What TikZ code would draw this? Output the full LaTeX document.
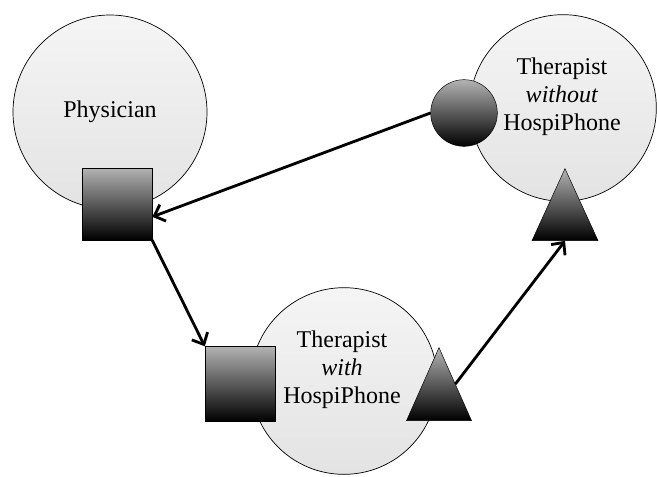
\documentclass[tikz,border=0pt]{standalone}
\usepackage{fontspec}
\setmainfont{Liberation Serif}
\usetikzlibrary{shapes.geometric,positioning,arrows.meta}

\begin{document}
\begin{tikzpicture}[x=0.03cm,y=-0.03cm,
	big/.style={circle,draw=black,semithick,top color=gray!8,bottom color=gray!22,inner sep=0pt},
	dark/.style={draw=black,thin,top color=gray!60,bottom color=black,inner sep=0pt},
	txt/.style={align=center,font=\fontsize{20.5}{24}\selectfont},
	link/.style={line width=2.4pt,-{Straight Barb[length=8pt,width=15pt]}}]
		\useasboundingbox (0,0) rectangle (657,476);
		\node[big,txt,minimum size=5.82cm] (1) at (110,112) {Physician};
		\node[big,minimum size=5.6cm] (3) at (563,108) {};
		\node[txt] (3t) at (562,97) {Therapist\\\textit{without}\\HospiPhone};
		\node[big,minimum size=5.6cm] (5) at (344,381) {};
		\node[txt] (5t) at (342,370) {Therapist\\\textit{with}\\HospiPhone};
		\node[dark,rectangle,minimum width=2.1cm,minimum height=2.16cm] (2) at (117,204) {};
		\node[dark,circle,minimum size=2cm] (4) at (464,113) {};
		\node[dark,rectangle,minimum width=2.1cm,minimum height=2.25cm] (6) at (240,384) {};
		\node[dark,isosceles triangle,shape border rotate=90,isosceles triangle stretches,minimum width=1.98cm,minimum height=2.16cm,anchor=apex] (7) at (565,168) {};
		\node[dark,isosceles triangle,shape border rotate=90,isosceles triangle stretches,minimum width=1.95cm,minimum height=2.19cm,anchor=apex] (8) at (439,347) {};

		\draw [link] (4.west) -- (2.-20);
		\draw [link] (2.south east) -- (6.north west);
		\draw [link] (8.right side) -- (7.south);
	\end{tikzpicture}
\end{document}
